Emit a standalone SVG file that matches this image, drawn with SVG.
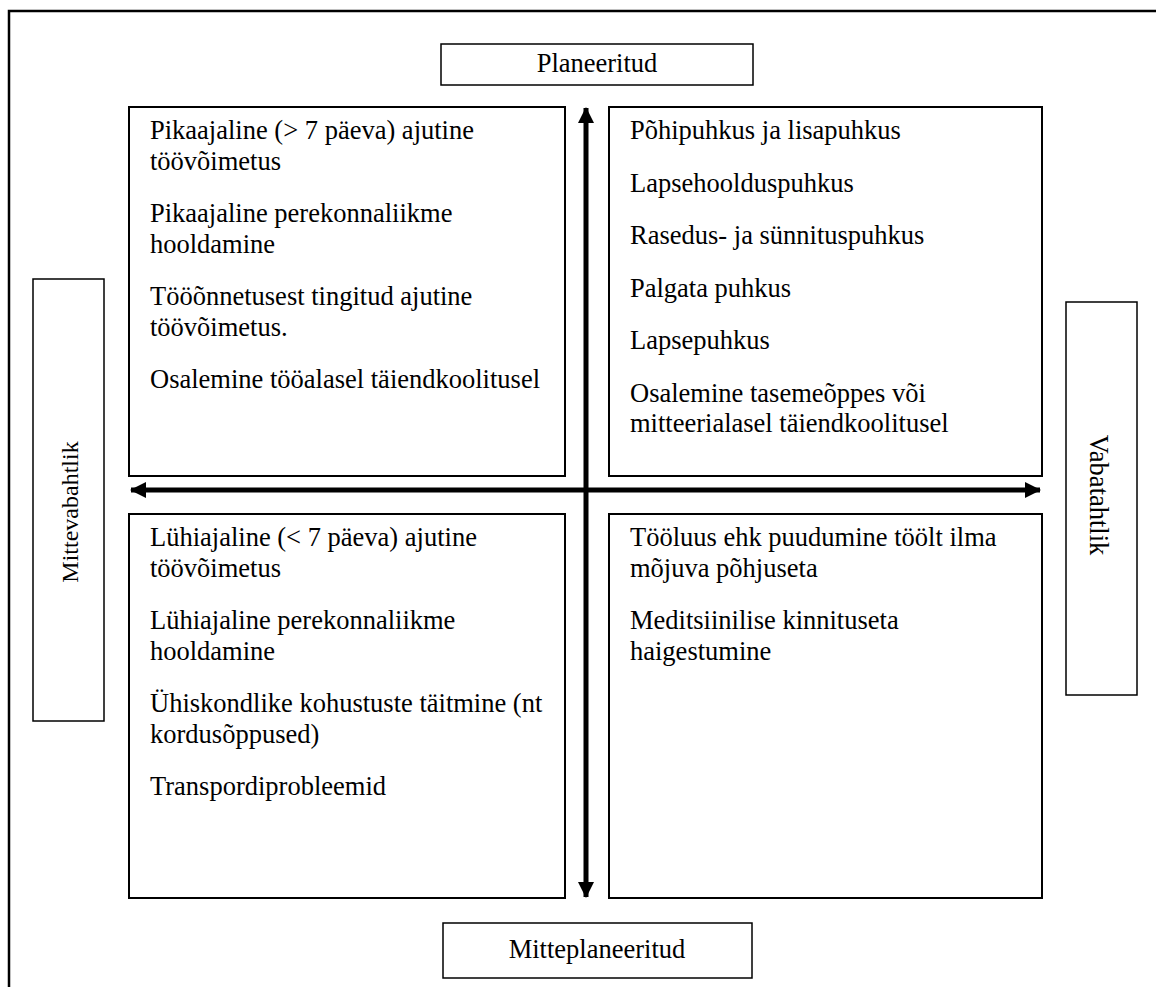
<svg xmlns="http://www.w3.org/2000/svg" width="1156" height="987" viewBox="0 0 1156 987">
<style>
.box{fill:#fff;stroke:#000;stroke-width:2}
.lbl{fill:#fff;stroke:#000;stroke-width:1.5}
.frame{fill:none;stroke:#000;stroke-width:2.5}
.axis{stroke:#000;stroke-width:5;fill:none}
text{font-family:"Liberation Serif","Times New Roman","DejaVu Serif",serif;font-size:26.5px;fill:#000}
.c{text-anchor:middle}
</style>
<defs>
<marker id="ah" viewBox="0 0 16 16" refX="15" refY="8" markerWidth="16" markerHeight="16" markerUnits="userSpaceOnUse" orient="auto-start-reverse">
<path d="M0,0 L16,8 L0,16 Z" fill="#000"/>
</marker>
</defs>
<rect width="1156" height="987" fill="#fff"/>
<path class="frame" d="M9,987 V11 H1156"/>

<g id="planeeritud">
<rect class="lbl" x="441" y="44" width="312" height="41"/>
<text class="c" x="597" y="72">Planeeritud</text>
</g>
<g id="mitteplaneeritud">
<rect class="lbl" x="443" y="923" width="309" height="55"/>
<text class="c" x="597" y="958">Mitteplaneeritud</text>
</g>
<g id="mittevabahtlik">
<rect class="lbl" x="33" y="279" width="71" height="442"/>
<text class="c" style="font-size:24px" transform="translate(78,512) rotate(-90)">Mittevabahtlik</text>
</g>
<g id="vabatahtlik">
<rect class="lbl" x="1066" y="302" width="71" height="393"/>
<text class="c" transform="translate(1090,495) rotate(90)">Vabatahtlik</text>
</g>

<g id="q-top-left">
<rect class="box" x="129" y="107" width="436" height="369"/>
<text x="150" y="139">Pikaajaline (&gt; 7 päeva) ajutine</text>
<text x="150" y="169.5">töövõimetus</text>
<text x="150" y="222">Pikaajaline perekonnaliikme</text>
<text x="150" y="252.5">hooldamine</text>
<text x="150" y="305">Tööõnnetusest tingitud ajutine</text>
<text x="150" y="335.5">töövõimetus.</text>
<text x="150" y="388">Osalemine tööalasel täiendkoolitusel</text>
</g>
<g id="q-top-right">
<rect class="box" x="609" y="107" width="433" height="369"/>
<text x="630" y="139">Põhipuhkus ja lisapuhkus</text>
<text x="630" y="191.5">Lapsehoolduspuhkus</text>
<text x="630" y="244">Rasedus- ja sünnituspuhkus</text>
<text x="630" y="296.5">Palgata puhkus</text>
<text x="630" y="349">Lapsepuhkus</text>
<text x="630" y="401.5">Osalemine tasemeõppes või</text>
<text x="630" y="432">mitteerialasel täiendkoolitusel</text>
</g>
<g id="q-bottom-left">
<rect class="box" x="129" y="514" width="436" height="384"/>
<text x="150" y="546">Lühiajaline (&lt; 7 päeva) ajutine</text>
<text x="150" y="576.5">töövõimetus</text>
<text x="150" y="629">Lühiajaline perekonnaliikme</text>
<text x="150" y="659.5">hooldamine</text>
<text x="150" y="712">Ühiskondlike kohustuste täitmine (nt</text>
<text x="150" y="742.5">kordusõppused)</text>
<text x="150" y="795">Transpordiprobleemid</text>
</g>
<g id="q-bottom-right">
<rect class="box" x="609" y="514" width="433" height="384"/>
<text x="630" y="546">Tööluus ehk puudumine töölt ilma</text>
<text x="630" y="576.5">mõjuva põhjuseta</text>
<text x="630" y="629">Meditsiinilise kinnituseta</text>
<text x="630" y="659.5">haigestumine</text>
</g>

<g id="connectors">
<line class="axis" x1="586" y1="108" x2="586" y2="897" marker-start="url(#ah)" marker-end="url(#ah)"/>
<line class="axis" x1="131" y1="490" x2="1040" y2="490" marker-start="url(#ah)" marker-end="url(#ah)"/>
</g>
</svg>
